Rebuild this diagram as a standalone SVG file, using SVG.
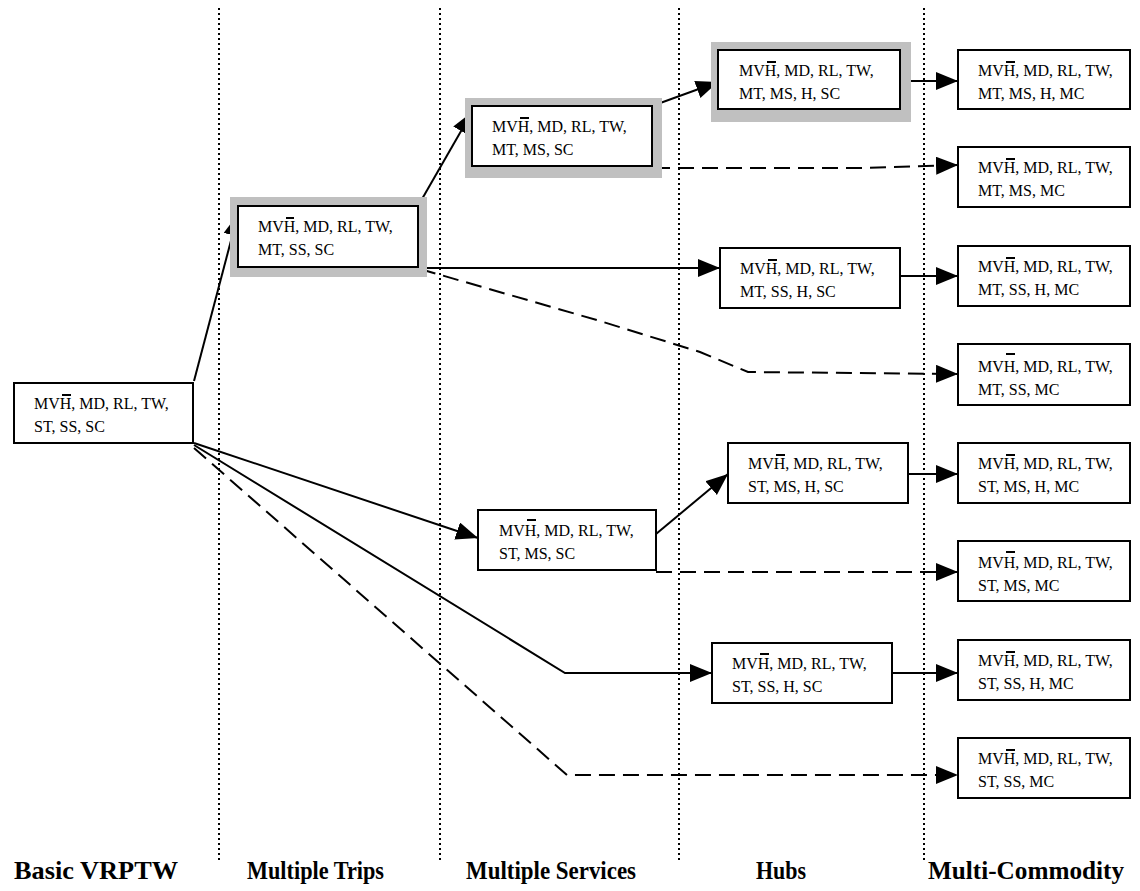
<svg xmlns="http://www.w3.org/2000/svg" width="1140" height="891" viewBox="0 0 1140 891">
<defs>
<marker id="ah" markerUnits="userSpaceOnUse" markerWidth="24" markerHeight="20" refX="22" refY="9" orient="auto">
<path d="M0,0 L22,9 L0,18 z" fill="#000"/>
</marker>
<style>
.box{fill:#fff;stroke:#000;stroke-width:2}
.shadow{fill:#c0c0c0;stroke:none}
.t{font-family:"Liberation Serif","Times New Roman",serif;font-size:16px;fill:#000}
.ol{stroke:#000;stroke-width:2}
.lbl{font-family:"Liberation Serif","Times New Roman",serif;font-size:26px;font-weight:bold;fill:#000}
.sep{stroke:#000;stroke-width:2;stroke-dasharray:2 3;fill:none}
.c{stroke:#000;stroke-width:2;fill:none;marker-end:url(#ah)}
.d{stroke-dasharray:16 8}
</style>
</defs>
<g id="separators">
<line class="sep" x1="219" y1="8" x2="219" y2="862"/>
<line class="sep" x1="440" y1="8" x2="440" y2="862"/>
<line class="sep" x1="679" y1="8" x2="679" y2="862"/>
<line class="sep" x1="924" y1="8" x2="924" y2="862"/>
</g>
<g id="labels">
<text class="lbl" x="14" y="879" textLength="164" lengthAdjust="spacingAndGlyphs">Basic VRPTW</text>
<text class="lbl" x="247" y="879" textLength="137" lengthAdjust="spacingAndGlyphs">Multiple Trips</text>
<text class="lbl" x="466" y="879" textLength="170" lengthAdjust="spacingAndGlyphs">Multiple Services</text>
<text class="lbl" x="756" y="879" textLength="50" lengthAdjust="spacingAndGlyphs">Hubs</text>
<text class="lbl" x="928" y="879" textLength="196" lengthAdjust="spacingAndGlyphs">Multi-Commodity</text>
</g>
<g id="connectors">
<path class="c" d="M194,381 L238,214"/>
<path class="c" d="M418,206 L472,112"/>
<path class="c" d="M652,106 L718,82"/>
<path class="c" d="M900,81 L958,81"/>
<path class="c d" d="M654,168 L862,168 L958,165"/>
<path class="c" d="M418,268 L720,268"/>
<path class="c d" d="M420,269 L600,321 L700,352 L748,372 L958,374"/>
<path class="c" d="M900,276 L958,276"/>
<path class="c" d="M194,443 L478,538"/>
<path class="c" d="M656,534 L728,474"/>
<path class="c" d="M908,474 L958,474"/>
<path class="c d" d="M656,572 L958,572"/>
<path class="c" d="M194,445 L565,673 L712,673"/>
<path class="c" d="M892,673 L958,673"/>
<path class="c d" d="M194,448 L567,775 L958,775"/>
</g>
<g id="n1">
<rect class="box" x="14" y="383" width="179" height="60"/>
<text class="t" x="34" y="409">MVH, MD, RL, TW,</text><text class="t" x="34" y="432">ST, SS, SC</text>
<line class="ol" x1="62" y1="395" x2="71" y2="395"/>
</g>
<g id="n2">
<rect class="shadow" x="230" y="197" width="197" height="80"/>
<rect class="box" x="238" y="206" width="180" height="61"/>
<text class="t" x="258" y="232">MVH, MD, RL, TW,</text><text class="t" x="258" y="255">MT, SS, SC</text>
<line class="ol" x1="286" y1="218" x2="294" y2="218"/>
</g>
<g id="n3">
<rect class="shadow" x="465" y="98" width="197" height="80"/>
<rect class="box" x="472" y="106" width="180" height="60"/>
<text class="t" x="492" y="132">MVH, MD, RL, TW,</text><text class="t" x="492" y="155">MT, MS, SC</text>
<line class="ol" x1="520" y1="118" x2="529" y2="118"/>
</g>
<g id="n4">
<rect class="shadow" x="711" y="42" width="200" height="80"/>
<rect class="box" x="718" y="50" width="182" height="59"/>
<text class="t" x="739" y="76">MVH, MD, RL, TW,</text><text class="t" x="739" y="99">MT, MS, H, SC</text>
<line class="ol" x1="767" y1="62" x2="776" y2="62"/>
</g>
<g id="n5">
<rect class="box" x="958" y="50" width="172" height="59"/>
<text class="t" x="978" y="76">MVH, MD, RL, TW,</text><text class="t" x="978" y="99">MT, MS, H, MC</text>
<line class="ol" x1="1006" y1="62" x2="1015" y2="62"/>
</g>
<g id="n6">
<rect class="box" x="958" y="147" width="172" height="60"/>
<text class="t" x="978" y="173">MVH, MD, RL, TW,</text><text class="t" x="978" y="196">MT, MS, MC</text>
<line class="ol" x1="1006" y1="159" x2="1015" y2="159"/>
</g>
<g id="n7">
<rect class="box" x="720" y="248" width="180" height="60"/>
<text class="t" x="740" y="274">MVH, MD, RL, TW,</text><text class="t" x="740" y="297">MT, SS, H, SC</text>
<line class="ol" x1="768" y1="260" x2="777" y2="260"/>
</g>
<g id="n9">
<rect class="box" x="958" y="246" width="172" height="60"/>
<text class="t" x="978" y="272">MVH, MD, RL, TW,</text><text class="t" x="978" y="295">MT, SS, H, MC</text>
<line class="ol" x1="1006" y1="258" x2="1015" y2="258"/>
</g>
<g id="n10">
<rect class="box" x="958" y="344" width="172" height="61"/>
<text class="t" x="978" y="372">MVH, MD, RL, TW,</text><text class="t" x="978" y="395">MT, SS, MC</text>
<line class="ol" x1="1006" y1="354" x2="1015" y2="354"/>
</g>
<g id="n8">
<rect class="box" x="728" y="443" width="180" height="60"/>
<text class="t" x="748" y="469">MVH, MD, RL, TW,</text><text class="t" x="748" y="492">ST, MS, H, SC</text>
<line class="ol" x1="776" y1="455" x2="785" y2="455"/>
</g>
<g id="n11">
<rect class="box" x="478" y="510" width="178" height="60"/>
<text class="t" x="499" y="536">MVH, MD, RL, TW,</text><text class="t" x="499" y="559">ST, MS, SC</text>
<line class="ol" x1="527" y1="520" x2="536" y2="520"/>
</g>
<g id="n12">
<rect class="box" x="958" y="443" width="172" height="60"/>
<text class="t" x="978" y="469">MVH, MD, RL, TW,</text><text class="t" x="978" y="492">ST, MS, H, MC</text>
<line class="ol" x1="1006" y1="455" x2="1015" y2="455"/>
</g>
<g id="n13">
<rect class="box" x="958" y="541" width="172" height="60"/>
<text class="t" x="978" y="568">MVH, MD, RL, TW,</text><text class="t" x="978" y="591">ST, MS, MC</text>
<line class="ol" x1="1006" y1="552" x2="1015" y2="552"/>
</g>
<g id="n14">
<rect class="box" x="712" y="643" width="180" height="60"/>
<text class="t" x="732" y="669">MVH, MD, RL, TW,</text><text class="t" x="732" y="692">ST, SS, H, SC</text>
<line class="ol" x1="760" y1="654" x2="769" y2="654"/>
</g>
<g id="n15">
<rect class="box" x="958" y="640" width="172" height="60"/>
<text class="t" x="978" y="666">MVH, MD, RL, TW,</text><text class="t" x="978" y="689">ST, SS, H, MC</text>
<line class="ol" x1="1006" y1="652" x2="1015" y2="652"/>
</g>
<g id="n16">
<rect class="box" x="958" y="738" width="172" height="60"/>
<text class="t" x="978" y="764">MVH, MD, RL, TW,</text><text class="t" x="978" y="787">ST, SS, MC</text>
<line class="ol" x1="1006" y1="750" x2="1015" y2="750"/>
</g>
</svg>
